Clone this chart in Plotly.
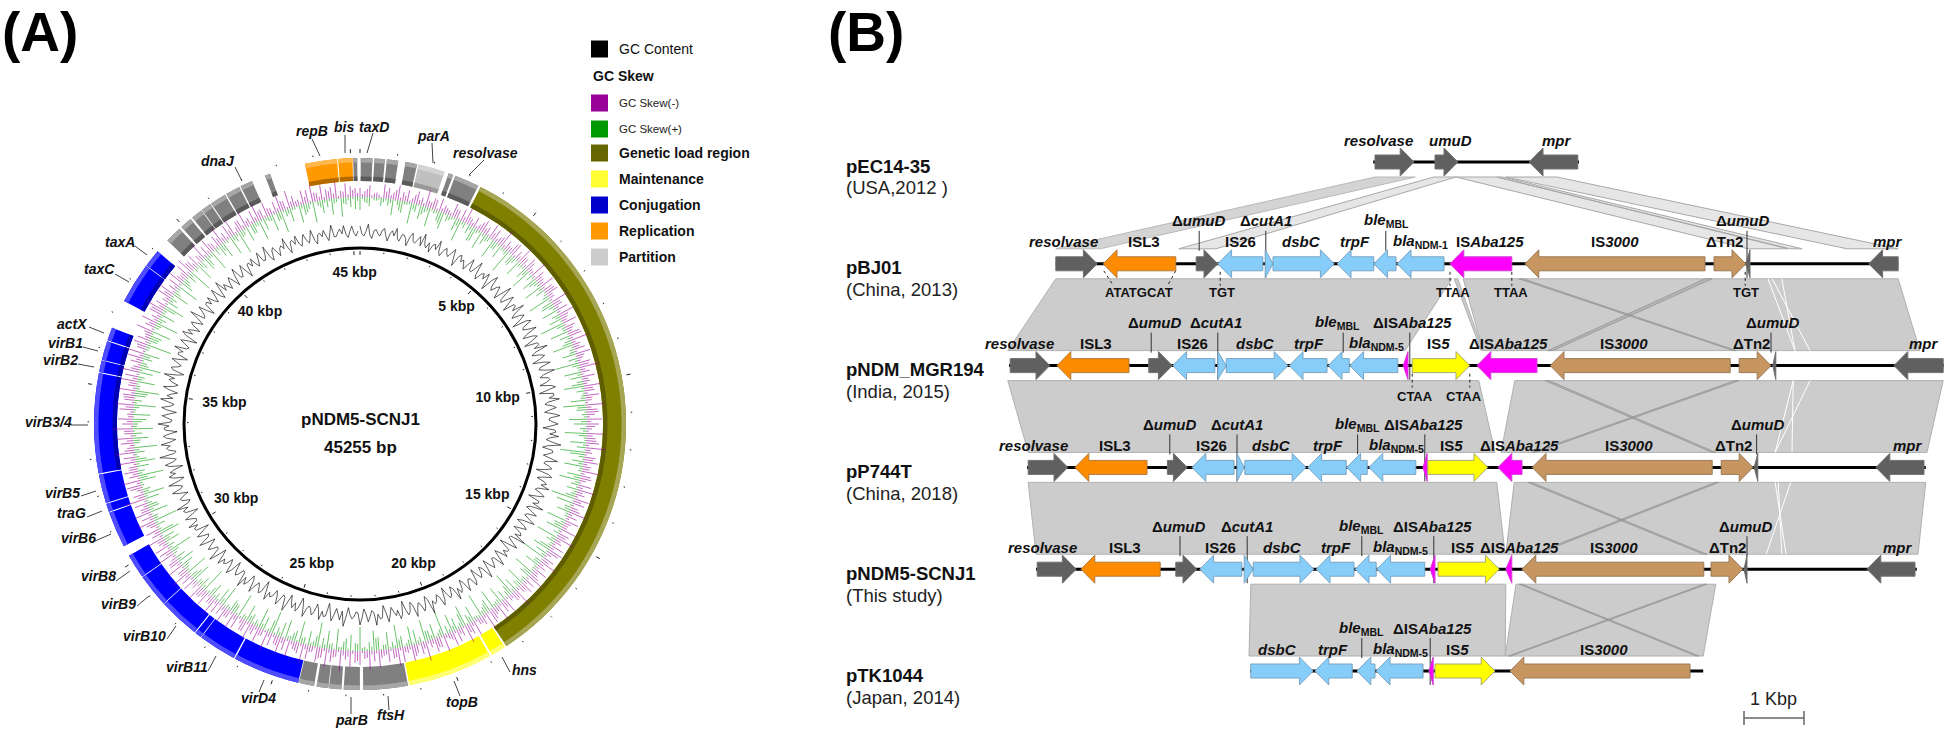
"""Plasmid map (A) and linear gene comparison (B), pNDM5-SCNJ1."""

import plotly.graph_objects as go

W, H = 1946, 729
FONT = "Liberation Sans"
PLASMID_BP = 45255

# ---- panel A data: kbp along the plasmid --------------------------------
LOAD_GENES = [(3.39, 18.43)]
MAINT_GENES = [(18.48, 18.89), (18.95, 21.28)]
CONJ_GENES = [(24.32, 26.15), (26.19, 27.23), (27.25, 27.43), (27.46, 28.59), (28.61, 29.52),
              (29.54, 30.21), (30.50, 31.49), (31.52, 31.74), (31.77, 32.56), (32.59, 35.33),
              (35.36, 35.68), (35.70, 36.22), (36.25, 36.61), (37.40, 38.52), (38.54, 39.03)]
REPL_GENES = [(43.75, 44.63), (44.66, 45.05)]
PART_GENES = [(1.60, 2.33)]
OTHER_GENES = [(21.32, 22.54), (22.63, 23.07), (23.13, 23.47), (23.49, 23.81), (23.88, 24.30),
               (39.42, 39.88), (39.95, 40.28), (40.34, 40.65), (40.67, 40.95), (40.98, 41.42),
               (41.46, 41.86), (41.90, 42.24), (42.62, 42.77), (45.07, 45.18), (0.02, 0.34),
               (0.39, 0.68), (0.73, 1.04), (1.24, 1.56), (2.45, 2.58), (2.64, 3.32)]

KBP_LABELS = [45, 5, 10, 15, 20, 25, 30, 35, 40]
KBP_LABEL_R = [151, 151, 140, 146, 150, 149, 145, 137, 150]

# window values round the plasmid, read by eye; the *_MID lists are the windows half way between
SKEW_NEG = [
    9, 6, 12, 4, 3, 14, 11, 7, 15, 9, 12, 5, 13, 8, 17, 6, 10, 13, 8, 5, 14, 9, 12, 16, 7, 11, 6, 13, 9, 15,
    12, 7, 18, 10, 6, 14, 9, 16, 8, 13, 5, 17, 11, 7, 15, 10, 13, 6, 18, 9, 12, 16, 7, 14, 10, 5, 13, 17, 8, 11,
    15, 6, 12, 19, 9, 13, 7, 16, 10, 14, 6, 18, 11, 8, 15, 12, 5, 17, 9, 13, 20, 7, 11, 14, 8, 16, 10, 6, 13, 18,
    9, 15, 12, 7, 17, 10, 14, 5, 16, 11, 19, 8, 13, 15, 6, 12, 18, 9, 14, 7, 16, 11, 13, 8, 20, 10, 6, 15, 12, 17,
    8, 14, 18, 10, 7, 16, 12, 19, 9, 13, 15, 6, 17, 11, 14, 8, 20, 12, 9, 16, 7, 15, 18, 10, 13, 6, 17, 11, 19, 8,
    14, 12, 16, 9, 21, 7, 13, 18, 10, 15, 6, 14, 19, 11, 8, 17, 12, 16, 9, 13, 20, 7, 15, 10, 18, 12, 6, 14, 17, 9,
    16, 11, 13, 19, 8, 15, 10, 18, 7, 14, 12, 20, 9, 16, 11, 6, 17, 13, 15, 8, 19, 10, 14, 7, 18, 12, 16, 9, 13, 21,
    11, 6, 15, 18, 10, 14, 8, 17, 12, 19, 7, 13, 16, 9, 20, 11, 15, 6, 14, 18, 10, 12, 17, 8, 16, 13, 19, 7, 11, 15,
    18, 9, 14, 12, 6, 17, 10, 16, 8, 13, 19, 11, 7, 15, 18, 9, 12, 16, 6, 14, 17, 10, 13, 8, 19, 11, 15, 7, 12, 18,
    9, 14, 16, 6, 11, 17, 8, 13, 19, 10, 15, 7, 12, 16, 9, 18, 11, 6, 14, 13, 17, 8, 15, 10, 12, 16, 7, 14, 11, 9,
]
SKEW_NEG_MID = [
    3, 8, 2, 5, 1, 7, 4, 10, 3, 6, 2, 9, 5, 3, 7, 11, 2, 4, 6, 3, 9, 2, 5, 8, 4, 3, 10, 6, 2, 7,
    4, 9, 3, 6, 12, 2, 5, 8, 3, 10, 4, 2, 7, 5, 3, 11, 6, 2, 8, 4, 3, 9, 5, 2, 7, 12, 3, 4, 6, 2,
    8, 3, 10, 5, 2, 6, 4, 9, 3, 7, 2, 5, 12, 3, 4, 8, 2, 6, 10, 3, 5, 2, 9, 4, 7, 3, 11, 2, 5, 6,
    3, 8, 2, 10, 4, 3, 7, 5, 2, 9, 6, 3, 4, 12, 2, 8, 5, 3, 6, 10, 2, 4, 7, 3, 9, 5, 2, 8, 3, 6,
    11, 2, 4, 7, 3, 5, 9, 2, 6, 3, 8, 4, 2, 10, 5, 3, 7, 2, 12, 4, 6, 3, 9, 2, 5, 8, 3, 4, 7, 2,
    10, 3, 6, 5, 2, 8, 4, 3, 11, 2, 7, 5, 3, 9, 4, 2, 6, 10, 3, 5, 2, 8, 4, 7, 3, 12, 2, 6, 3, 9,
    5, 2, 4, 8, 3, 7, 10, 2, 5, 3, 6, 9, 2, 4, 11, 3, 7, 2, 5, 8, 3, 6, 2, 10, 4, 3, 9, 5, 2, 7,
    3, 12, 4, 2, 6, 8, 3, 5, 2, 10, 4, 7, 3, 9, 2, 6, 5, 3, 8, 2, 11, 4, 3, 7, 5, 2, 9, 3, 6, 4,
    2, 10, 3, 5, 8, 2, 7, 4, 3, 12, 6, 2, 5, 9, 3, 4, 2, 8, 7, 3, 10, 5, 2, 6, 3, 4, 9, 2, 8, 5,
    3, 7, 2, 11, 4, 6, 3, 5, 9, 2, 8, 3, 4, 10, 2, 6, 5, 3, 7, 2, 9, 4, 3, 8, 5, 2, 6, 3, 7, 4,
]
SKEW_POS = [
    13, 5, 9, 3, 2, 4, 7, 16, 5, 12, 3, 21, 8, 14, 6, 19, 4, 10, 17, 7, 3, 13, 22, 6, 9, 15, 4, 18, 11, 5,
    20, 8, 14, 3, 24, 10, 6, 17, 4, 12, 21, 7, 15, 5, 19, 9, 3, 23, 11, 6, 16, 8, 13, 25, 4, 18, 10, 7, 21, 5,
    14, 9, 24, 3, 17, 12, 6, 20, 8, 4, 15, 23, 10, 5, 18, 13, 7, 22, 3, 16, 9, 25, 6, 12, 19, 4, 14, 21, 8, 11,
    5, 24, 17, 7, 13, 3, 20, 10, 16, 6, 22, 9, 4, 18, 12, 25, 7, 15, 3, 21, 11, 5, 19, 8, 14, 23, 6, 10, 17, 4,
    20, 13, 7, 24, 3, 16, 9, 21, 5, 12, 18, 8, 25, 4, 15, 10, 22, 6, 14, 19, 3, 11, 23, 7, 17, 5, 13, 20, 9, 4,
    24, 8, 16, 12, 3, 21, 6, 18, 10, 25, 5, 14, 7, 22, 11, 4, 19, 15, 8, 23, 3, 13, 20, 6, 10, 17, 5, 24, 9, 12,
    4, 21, 16, 7, 14, 3, 25, 11, 6, 19, 8, 22, 5, 13, 17, 10, 4, 23, 7, 15, 12, 20, 3, 9, 24, 6, 18, 11, 5, 14,
    21, 8, 3, 16, 25, 7, 12, 19, 4, 10, 23, 6, 15, 9, 20, 5, 13, 17, 3, 22, 8, 11, 24, 4, 18, 7, 14, 21, 6, 10,
    16, 3, 25, 9, 12, 19, 5, 23, 8, 15, 4, 20, 11, 7, 17, 3, 22, 13, 6, 10, 24, 5, 18, 9, 14, 4, 21, 7, 12, 16,
    3, 19, 8, 23, 6, 15, 10, 4, 20, 12, 5, 17, 9, 22, 7, 14, 3, 18, 11, 6, 21, 5, 13, 8, 16, 4, 19, 7, 10, 12,
]
SKEW_POS_MID = [
    2, 6, 1, 3, 8, 2, 4, 1, 10, 3, 2, 6, 1, 9, 4, 2, 3, 12, 1, 5, 2, 7, 3, 1, 4, 14, 2, 3, 6, 1,
    8, 2, 3, 5, 1, 11, 2, 4, 3, 7, 1, 2, 9, 3, 4, 1, 6, 2, 13, 3, 1, 5, 2, 8, 4, 1, 3, 10, 2, 6,
    1, 3, 7, 2, 4, 1, 12, 3, 2, 5, 1, 9, 2, 3, 6, 1, 4, 8, 2, 3, 1, 15, 2, 5, 3, 1, 7, 4, 2, 3,
    10, 1, 2, 6, 3, 1, 4, 9, 2, 1, 5, 3, 12, 2, 4, 1, 7, 3, 2, 8, 1, 4, 6, 2, 3, 11, 1, 2, 5, 3,
    1, 9, 4, 2, 3, 6, 1, 14, 2, 5, 3, 1, 7, 2, 4, 10, 1, 3, 2, 6, 1, 8, 3, 2, 5, 1, 12, 4, 2, 3,
    7, 1, 2, 9, 3, 1, 5, 4, 2, 11, 3, 1, 6, 2, 8, 3, 1, 4, 2, 13, 1, 5, 3, 2, 7, 4, 1, 2, 10, 3,
    1, 6, 2, 3, 9, 1, 4, 5, 2, 12, 1, 3, 7, 2, 4, 1, 8, 3, 2, 6, 1, 15, 2, 3, 5, 1, 4, 10, 2, 3,
    6, 1, 2, 8, 4, 1, 3, 11, 2, 5, 1, 7, 3, 2, 4, 9, 1, 2, 6, 3, 1, 13, 4, 2, 5, 1, 3, 8, 2, 7,
    1, 4, 3, 10, 2, 1, 6, 5, 2, 3, 12, 1, 4, 2, 7, 3, 1, 9, 2, 5, 1, 3, 6, 2, 11, 4, 1, 3, 8, 2,
    1, 5, 3, 7, 2, 1, 10, 4, 2, 3, 6, 1, 8, 2, 5, 3, 1, 4, 9, 2, 1, 7, 3, 2, 5, 1, 6, 3, 2, 4,
]
GC_DEV = [
    6, -4, 8, -6, 3, -3, 5, -7, 4, 7, -5, 2, -8, 6, -3, 5, 9, -4, -7, 3, 8, -6, 4, -3, 7, -9, 5, 2, -6, 8,
    -4, 10, -7, 3, 6, -10, 9, -5, 4, -8, 11, -6, 7, -9, 3, 10, -7, 5, -11, 8, -4, 9, -8, 6, -10, 4, 11, -7, 5, -9,
    8, -5, 10, -6, 3, -8, 7, -10, 4, 9, -6, 5, -7, 8, -3, 6, -9, 4, 7, -5, 10, -8, 3, -6, 9, -4, 5, -10, 7, -7,
    4, 8, -5, 6, -9, 3, 10, -6, 7, -4, 9, -8, 5, -7, 4, 11, -5, 8, -10, 3, 6, -7, 9, -4, 5, -8, 10, -6, 4, -9,
    7, -3, 8, -7, 5, 10, -6, 4, -9, 8, -5, 3, 11, -8, 6, -4, 9, -7, 5, -10, 7, 3, -6, 8, -9, 4, 10, -5, 6, -7,
    9, -4, 3, -8, 11, 5, -6, 7, -10, 4, 8, -7, 5, -3, 9, -9, 6, 4, -8, 10, -5, 7, -6, 3, 8, -10, 5, -4, 9, -7,
    6, 11, -5, 4, -9, 8, -6, 3, 7, -8, 10, -4, 5, -7, 9, -5, 6, -10, 4, 8, -3, 7, -9, 5, 10, -6, 3, -7, 8, -4,
    9, -8, 6, 4, -10, 7, -5, 11, -6, 3, 8, -7, 5, -9, 4, 10, -4, 6, -8, 7, -5, 9, 3, -7, 8, -6, 4, 10, -9, 5,
    -4, 7, -8, 3, 9, -5, 6, -10, 8, 4, -7, 5, -6, 11, -3, 7, -9, 4, 6, -5, 8, -7, 10, 3, -6, 5, -8, 9, -4, 7,
    -9, 4, 6, -5, 8, -3, 10, -7, 5, -6, 3, 9, -8, 4, 7, -5, 6, -4, 8, -7, 3, 5, -6, 9, -3, 4, 7, -5, 6, -4,
]
GC_DEV_MID = [
    -2, 1, -3, 2, -1, 3, -2, 1, -1, -3, 2, -1, 2, -2, 1, -4, -1, 2, 1, -2, -3, 1, -1, 2, -2, 3, -1, -2, 1, -3,
    2, -3, 1, -2, -1, 3, -2, 1, -2, 2, -4, 1, -1, 3, -2, -3, 1, -1, 4, -2, 1, -3, 2, -1, 3, -2, -3, 1, -1, 2,
    -3, 1, -2, 2, -1, 3, -2, 4, -1, -3, 1, -2, 2, -2, 1, -1, 3, -2, -2, 1, -3, 2, -1, 1, -3, 2, -1, 3, -2, 1,
    -1, -3, 2, -1, 3, -2, -3, 1, -2, 2, -3, 1, -1, 2, -2, -4, 1, -2, 3, -1, -2, 1, -3, 1, -1, 2, -3, 1, -2, 3,
    -2, 1, -3, 2, -1, -3, 2, -1, 3, -2, 1, -1, -4, 2, -1, 1, -3, 2, -1, 3, -2, -1, 1, -2, 3, -1, -3, 1, -2, 2,
    -3, 1, -1, 2, -4, -1, 1, -2, 3, -1, -2, 2, -1, 1, -3, 2, -2, -1, 2, -3, 1, -2, 1, -1, -2, 3, -1, 1, -3, 2,
    -1, -4, 1, -1, 3, -2, 1, -1, -2, 2, -3, 1, -1, 2, -3, 1, -2, 3, -1, -2, 1, -2, 3, -1, -3, 1, -1, 2, -2, 1,
    -3, 2, -1, -1, 3, -2, 1, -4, 1, -1, -2, 2, -1, 3, -1, -3, 1, -1, 2, -2, 1, -3, -1, 2, -2, 1, -1, -3, 3, -1,
    1, -2, 3, -1, -3, 1, -1, 3, -2, -1, 2, -1, 1, -4, 1, -2, 3, -1, -1, 1, -3, 2, -3, -1, 1, -1, 2, -3, 1, -2,
    3, -1, -1, 1, -2, 1, -3, 2, -1, 1, -1, -2, 3, -1, -2, 1, -1, 1, -3, 2, -1, -1, 1, -3, 1, -1, -2, 1, -1, 1,
]

# ---- panel B data: (kbp start, kbp end, strand, class) per plasmid row ---
ROW_NAMES = ["pEC14-35", "pBJ01", "pNDM_MGR194", "pP744T", "pNDM5-SCNJ1", "pTK1044"]
ROW_NOTES = ["(USA,2012 )", "(China, 2013)", "(India, 2015)", "(China, 2018)", "(This study)", "(Japan, 2014)"]
BACKBONES = [(9.22, 12.65), (3.93, 17.97), (3.15, 18.73), (3.45, 18.43), (3.60, 18.28), (7.17, 14.72)]

GENES = [
    [(9.25, 9.90, 1, "dark"), (10.25, 10.63, 1, "dark"), (11.82, 12.63, -1, "dark")],
    [(3.93, 4.62, 1, "dark"), (4.72, 5.93, -1, "orange"), (6.27, 6.63, 1, "dark"), (6.63, 7.38, -1, "blue"),
     (7.42, 7.55, 1, "blue"), (7.55, 8.57, 1, "blue"), (8.62, 9.23, -1, "blue"), (9.23, 9.60, -1, "blue"),
     (9.62, 10.40, -1, "blue"), (10.50, 11.53, -1, "magenta"), (11.75, 14.75, -1, "tan"), (14.90, 15.43, 1, "tan"),
     (15.43, 15.50, -1, "dark"), (17.48, 17.97, -1, "dark")],
    [(3.17, 3.83, 1, "dark"), (3.95, 5.15, -1, "orange"), (5.48, 5.87, 1, "dark"), (5.88, 6.58, -1, "blue"),
     (6.63, 6.77, 1, "blue"), (6.77, 7.80, 1, "blue"), (7.82, 8.45, -1, "blue"), (8.47, 8.82, -1, "blue"),
     (8.83, 9.63, -1, "blue"), (9.72, 9.80, -1, "magenta"), (9.87, 10.83, 1, "yellow"), (10.95, 11.95, -1, "magenta"),
     (12.17, 15.17, -1, "tan"), (15.32, 15.85, 1, "tan"), (15.88, 15.93, -1, "dark"), (17.90, 18.72, -1, "dark")],
    [(3.47, 4.13, 1, "dark"), (4.25, 5.45, -1, "orange"), (5.79, 6.12, 1, "dark"), (6.20, 6.90, -1, "blue"),
     (6.95, 7.07, 1, "blue"), (7.08, 8.10, 1, "blue"), (8.13, 8.77, -1, "blue"), (8.78, 9.12, -1, "blue"),
     (9.15, 9.93, -1, "blue"), (10.05, 10.12, -1, "magenta"), (10.13, 11.13, 1, "yellow"), (11.30, 11.70, -1, "magenta"),
     (11.87, 14.87, -1, "tan"), (15.02, 15.55, 1, "tan"), (15.57, 15.63, -1, "dark"), (17.60, 18.40, -1, "dark")],
    [(3.62, 4.27, 1, "dark"), (4.35, 5.67, -1, "orange"), (5.93, 6.28, 1, "dark"), (6.33, 7.03, -1, "blue"),
     (7.07, 7.22, 1, "blue"), (7.22, 8.23, 1, "blue"), (8.27, 8.90, -1, "blue"), (8.92, 9.27, -1, "blue"),
     (9.28, 10.08, -1, "blue"), (10.17, 10.25, -1, "magenta"), (10.30, 11.32, 1, "yellow"), (11.43, 11.53, -1, "magenta"),
     (11.70, 14.73, -1, "tan"), (14.85, 15.38, 1, "tan"), (15.40, 15.45, -1, "dark"), (17.45, 18.25, -1, "dark")],
    [(7.18, 8.22, 1, "blue"), (8.25, 8.87, -1, "blue"), (8.95, 9.25, -1, "blue"), (9.27, 10.05, -1, "blue"),
     (10.15, 10.22, -1, "magenta"), (10.25, 11.25, 1, "yellow"), (11.50, 14.50, -1, "tan")],
]

# homology ribbons between neighbouring rows: (top start, top end, bottom start, bottom end)
LIGHT_RIBBONS = [(10.23, 10.60, 5.98, 6.60), (10.60, 11.28, 15.47, 16.13), (11.28, 11.38, 16.17, 16.37),
                 (11.43, 12.28, 17.12, 17.97)]
FIRST_RIBBON = (9.25, 9.92, 3.93, 4.67)
RIBBONS = [
    [],
    [(3.93, 10.53, 3.13, 9.75), (10.57, 10.63, 11.02, 11.05), (10.72, 17.97, 11.05, 18.33)],
    [(3.13, 10.98, 3.47, 11.25), (11.58, 18.72, 11.35, 18.45)],
    [(3.47, 11.28, 3.60, 11.42), (11.57, 18.43, 11.43, 18.30)],
    [(7.18, 11.43, 7.15, 11.42), (11.60, 14.93, 11.42, 14.72)],
]
INVERTED = [
    [],
    [(11.65, 11.72, 15.22, 15.27), (14.75, 14.87, 12.13, 12.22)],
    [(12.08, 12.15, 14.87, 14.93), (15.25, 15.32, 11.87, 11.93)],
    [(11.80, 11.86, 14.72, 14.78), (14.92, 14.98, 11.88, 11.94)],
    [(11.65, 11.70, 14.60, 14.65), (14.73, 14.78, 11.47, 11.52)],
]
# thin breaks in the ribbons near umuD: (top kbp, bottom kbp)
BREAKS = [
    [],
    [(15.80, 16.25), (16.03, 16.25), (15.87, 16.50)],
    [(16.22, 16.20), (16.50, 15.92), (16.22, 15.92)],
    [(15.92, 16.10), (16.18, 15.77), (15.97, 16.03)],
    [],
]

# gene labels: (text, kbp, row)
D = "\u0394"
LOWER_LABELS = [
    ("<i>resolvase</i>", 9.30, 0), ("<i>umuD</i>", 10.50, 0), ("<i>mpr</i>", 12.28, 0),
    ("<i>resolvase</i>", 4.05, 1), ("ISL3", 5.40, 1), ("IS26", 7.00, 1), ("<i>dsbC</i>", 8.02, 1),
    ("<i>trpF</i>", 8.92, 1), ("<i>bla</i><sub>NDM-1</sub>", 10.00, 1), ("IS<i>Aba125</i>", 11.17, 1),
    ("IS<i>3000</i>", 13.25, 1), (D + "Tn2", 15.07, 1), ("<i>mpr</i>", 17.80, 1),
    ("<i>resolvase</i>", 3.32, 2), ("ISL3", 4.60, 2), ("IS26", 6.20, 2), ("<i>dsbC</i>", 7.25, 2),
    ("<i>trpF</i>", 8.15, 2), ("<i>bla</i><sub>NDM-5</sub>", 9.27, 2), ("IS<i>5</i>", 10.30, 2),
    (D + "IS<i>Aba125</i>", 11.48, 2), ("IS<i>3000</i>", 13.40, 2), (D + "Tn2", 15.52, 2), ("<i>mpr</i>", 18.40, 2),
    ("<i>resolvase</i>", 3.55, 3), ("ISL3", 4.92, 3), ("IS26", 6.52, 3), ("<i>dsbC</i>", 7.53, 3),
    ("<i>trpF</i>", 8.47, 3), ("<i>bla</i><sub>NDM-5</sub>", 9.60, 3), ("IS<i>5</i>", 10.53, 3),
    (D + "IS<i>Aba125</i>", 11.65, 3), ("IS<i>3000</i>", 13.48, 3), (D + "Tn2", 15.23, 3), ("<i>mpr</i>", 18.13, 3),
    ("<i>resolvase</i>", 3.71, 4), ("ISL3", 5.08, 4), ("IS26", 6.68, 4), ("<i>dsbC</i>", 7.70, 4),
    ("<i>trpF</i>", 8.60, 4), ("<i>bla</i><sub>NDM-5</sub>", 9.68, 4), ("IS<i>5</i>", 10.70, 4),
    (D + "IS<i>Aba125</i>", 11.65, 4), ("IS<i>3000</i>", 13.23, 4), (D + "Tn2", 15.12, 4), ("<i>mpr</i>", 17.97, 4),
    ("<i>dsbC</i>", 7.62, 5), ("<i>trpF</i>", 8.55, 5), ("<i>bla</i><sub>NDM-5</sub>", 9.68, 5),
    ("IS<i>5</i>", 10.63, 5), ("IS<i>3000</i>", 13.07, 5),
]
UPPER_LABELS = [
    (D + "<i>umuD</i>", 6.30, 1), (D + "<i>cutA1</i>", 7.43, 1), ("<i>ble</i><sub>MBL</sub>", 9.44, 1), (D + "<i>umuD</i>", 15.38, 1),
    (D + "<i>umuD</i>", 5.58, 2), (D + "<i>cutA1</i>", 6.60, 2), ("<i>ble</i><sub>MBL</sub>", 8.63, 2),
    (D + "IS<i>Aba125</i>", 9.88, 2), (D + "<i>umuD</i>", 15.87, 2),
    (D + "<i>umuD</i>", 5.82, 3), (D + "<i>cutA1</i>", 6.95, 3), ("<i>ble</i><sub>MBL</sub>", 8.95, 3),
    (D + "IS<i>Aba125</i>", 10.05, 3), (D + "<i>umuD</i>", 15.62, 3),
    (D + "<i>umuD</i>", 5.98, 4), (D + "<i>cutA1</i>", 7.12, 4), ("<i>ble</i><sub>MBL</sub>", 9.03, 4),
    (D + "IS<i>Aba125</i>", 10.20, 4), (D + "<i>umuD</i>", 15.43, 4),
    ("<i>ble</i><sub>MBL</sub>", 9.03, 5), (D + "IS<i>Aba125</i>", 10.20, 5),
]
SITE_LABELS = [("ATATGCAT", 5.32, 1), ("TGT", 6.70, 1), ("TTAA", 10.55, 1), ("TTAA", 11.52, 1), ("TGT", 15.43, 1),
               ("CTAA", 9.92, 2), ("CTAA", 10.73, 2)]
SHORT_LEADERS = [(6.32, 1), (9.43, 1), (5.52, 2), (8.72, 2), (15.85, 2), (5.83, 3), (8.96, 3), (15.61, 3),
                 (6.00, 4), (9.03, 4), (15.45, 4), (9.03, 5)]
LONG_LEADERS = [(7.43, 1), (15.45, 1), (6.63, 2), (9.83, 2), (6.95, 3), (10.08, 3), (7.12, 4), (10.23, 4), (10.17, 5)]
SITE_LEADERS = [(6.67, 1), (10.50, 1), (11.53, 1), (15.42, 1), (9.87, 2), (10.83, 2)]
SLANT_LEADERS = [(4.73, 4.88, 1), (5.93, 5.80, 1)]
SCALE_BAR_KBP = (15.40, 16.40)

# legend and circular labels (label x, y, leader x0, y0, x1, y1 in picture pixels)
LEGEND_LABELS = ["GC Content", "GC Skew", "GC Skew(-)", "GC Skew(+)", "Genetic load region",
                 "Maintenance", "Conjugation", "Replication", "Partition"]
LEGEND_COLORS = ["#000000", None, "#990099", "#009900", "#666600", "#ffff33", "#0000cc", "#ff9900", "#cccccc"]
LEGEND_Y = [49, 76, 103, 129, 153, 179, 205, 231, 257]
RING_LABELS = [
    ("repB", 312, 131, 312, 139, 320, 156), ("bis", 344, 127, 345, 135, 345, 153),
    ("taxD", 374, 127, 373, 133, 367, 153), ("parA", 433, 136, 432, 143, 433, 163),
    ("resolvase", 485, 153, 484, 160, 469, 175), ("dnaJ", 218, 161, 235, 167, 242, 181),
    ("taxA", 120, 242, 135, 246, 147, 255), ("taxC", 99, 269, 115, 274, 129, 282),
    ("actX", 72, 324, 89, 327, 104, 333), ("virB1", 65, 343, 83, 347, 98, 351),
    ("virB2", 60, 360, 78, 364, 94, 367), ("virB3/4", 48, 422, 71, 425, 88, 425),
    ("virB5", 62, 493, 81, 496, 96, 491), ("traG", 71, 513, 87, 517, 102, 511),
    ("virB6", 78, 538, 95, 541, 111, 534), ("virB8", 98, 576, 116, 581, 130, 571),
    ("virB9", 118, 604, 137, 606, 149, 596), ("virB10", 144, 636, 167, 639, 176, 626),
    ("virB11", 187, 667, 208, 671, 216, 656), ("virD4", 258, 698, 259, 692, 264, 680),
    ("parB", 351, 720, 351, 714, 351, 697), ("ftsH", 391, 715, 389, 710, 388, 696),
    ("topB", 462, 702, 460, 696, 454, 681), ("hns", 524, 670, 510, 672, 502, 657),
]

# ---- geometry -------------------------------------------------------------
CX, CY, RMAX = 360, 424, 300
R_INNER, R_SKEW, R_GC = 176, 227, 192
RING_IN, RING_OUT = 243, 266
BEVEL = 4.5

B_LEFT = 820
PX_PER_KBP = 60
ROW0_PX, ROW_PX = 162, 101.8
HEAD_KBP, BODY_H, HEAD_H = 0.23, 7 / ROW_PX, 14 / ROW_PX
STRIP = 15 / ROW_PX


def paper_x(px):
    return px / W


def paper_y(py):
    return 1 - py / H


def deg(kb):
    return kb * 1000 / PLASMID_BP * 360


def row_off(px):
    return px / ROW_PX


fig = go.Figure()

# ---- panel A ---------------------------------------------------------------


def ring_segment(segs, color, light, dark):
    thetas = [deg((a + b) / 2) for a, b in segs]
    widths = [deg(b - a) for a, b in segs]
    fig.add_trace(go.Barpolar(r=[RING_OUT - RING_IN] * len(segs), base=[RING_IN] * len(segs), theta=thetas,
                              width=widths, marker=dict(color=color, line=dict(width=0))))
    fig.add_trace(go.Barpolar(r=[BEVEL] * len(segs), base=[RING_OUT - BEVEL] * len(segs), theta=thetas,
                              width=widths, marker=dict(color=light, line=dict(width=0))))
    upper = [i for i, t in enumerate(thetas) if t < 100 or t > 260]
    if upper:
        fig.add_trace(go.Barpolar(r=[BEVEL] * len(upper), base=[RING_IN] * len(upper),
                                  theta=[thetas[i] for i in upper], width=[widths[i] for i in upper],
                                  marker=dict(color=dark, line=dict(width=0))))


ring_segment(LOAD_GENES, "#808000", "#a6a654", "#5e5e00")
ring_segment(MAINT_GENES, "#ffff00", "#ffff73", "#b3b300")
ring_segment(CONJ_GENES, "#0000ff", "#4d4dff", "#0000b3")
ring_segment(REPL_GENES, "#ff9900", "#ffb84d", "#b36b00")
ring_segment(PART_GENES, "#c0c0c0", "#d4d4d4", "#9a9a9a")
ring_segment(OTHER_GENES, "#808080", "#a6a6a6", "#5a5a5a")


def interleave(a, b):
    return [v for pair in zip(a, b) for v in pair]


def tick_track(values, base, sign, color, width):
    # one needle per window
    step = 360 / len(values)
    r, theta = [], []
    for i, v in enumerate(values):
        r += [base, base + sign * v, None]
        theta += [i * step, i * step, None]
    fig.add_trace(go.Scatterpolar(r=r, theta=theta, mode="lines", line=dict(color=color, width=width)))


tick_track(interleave(SKEW_NEG, SKEW_NEG_MID), R_SKEW, 1, "rgba(153,0,153,0.6)", 1)
tick_track(interleave(SKEW_POS, SKEW_POS_MID), R_SKEW, -1, "rgba(0,153,0,0.6)", 1)

# GC content is a jagged line round its ring
gc_values = interleave(GC_DEV, GC_DEV_MID)
fig.add_trace(go.Scatterpolar(
    r=[R_GC + v for v in gc_values],
    theta=[i * 360 / len(gc_values) for i in range(len(gc_values))],
    mode="lines",
    line=dict(color="rgba(0,0,0,0.7)", width=0.9),
))

# kbp ticks, small every 1 kbp and longer every 5 kbp
for ring_r, sign in ((R_INNER - 3, -1), (RING_OUT + 5, 1)):
    r, theta = [], []
    for kb in range(46):
        size = 4 if kb % 5 == 0 else 1.5
        r += [ring_r, ring_r + sign * size, None]
        theta += [deg(kb), deg(kb), None]
    fig.add_trace(go.Scatterpolar(r=r, theta=theta, mode="lines", line=dict(color="#222222", width=1)))

fig.add_trace(go.Scatterpolar(
    r=KBP_LABEL_R, theta=[deg(k) for k in KBP_LABELS], mode="text",
    text=[f"<b>{k} kbp</b>" for k in KBP_LABELS],
    textfont=dict(family=FONT, size=14, color="#111111"),
))

# ---- panel B ---------------------------------------------------------------
GENE_COLORS = {
    "dark": ("#606060", "#707070"),
    "orange": ("#ff8c00", "#b07a3a"),
    "blue": ("#87cdf9", "#7ba4c2"),
    "magenta": ("#ff00ff", "#d040d0"),
    "yellow": ("#ffff00", "#a8a870"),
    "tan": ("#c69560", "#9a7a58"),
}


def ribbon_trace(ribbons, top_row, fill, edge, width=1):
    xs, ys = [], []
    top, bottom = top_row + STRIP, top_row + 1 - STRIP
    for t0, t1, b0, b1 in ribbons:
        xs += [t0, t1, b1, b0, t0, None]
        ys += [top, top, bottom, bottom, top, None]
    fig.add_trace(go.Scatter(x=xs, y=ys, mode="lines", fill="toself", fillcolor=fill,
                             line=dict(color=edge, width=width)))


ribbon_trace([FIRST_RIBBON], 0, "#d4d4d4", "#b8b8b8")
ribbon_trace(LIGHT_RIBBONS, 0, "#e6e6e6", "#a8a8a8")
for gap in range(1, 5):
    ribbon_trace(RIBBONS[gap], gap, "#cccccc", "#b0b0b0")
    ribbon_trace(INVERTED[gap], gap, "#b4b4b4", "#8f8f8f", 0.7)
    if BREAKS[gap]:
        xs, ys = [], []
        for top_kb, bottom_kb in BREAKS[gap]:
            xs += [top_kb, bottom_kb, None]
            ys += [gap + STRIP, gap + 1 - STRIP, None]
        fig.add_trace(go.Scatter(x=xs, y=ys, mode="lines", line=dict(color="#ffffff", width=1)))

# leader lines
for leaders, top_px, bottom_px, dash, color in (
    (SHORT_LEADERS, -33, -13, "solid", "#333333"),
    (LONG_LEADERS, -33, 14, "solid", "#333333"),
    (SITE_LEADERS, 8, 22, "dot", "#222222"),
):
    xs, ys = [], []
    for kb, row in leaders:
        xs += [kb, kb, None]
        ys += [row + row_off(top_px), row + row_off(bottom_px), None]
    fig.add_trace(go.Scatter(x=xs, y=ys, mode="lines", line=dict(color=color, width=1, dash=dash)))
xs, ys = [], []
for kb0, kb1, row in SLANT_LEADERS:
    xs += [kb0, kb1, None]
    ys += [row + row_off(7), row + row_off(21), None]
fig.add_trace(go.Scatter(x=xs, y=ys, mode="lines", line=dict(color="#222222", width=1, dash="dot")))

# backbones
xs, ys = [], []
for row, (a, b) in enumerate(BACKBONES):
    xs += [a, b, None]
    ys += [row, row, None]
fig.add_trace(go.Scatter(x=xs, y=ys, mode="lines", line=dict(color="#000000", width=3)))

# gene arrows, one trace per class
for key, (fill, edge) in GENE_COLORS.items():
    xs, ys = [], []
    for row, genes in enumerate(GENES):
        for start, end, strand, cls in genes:
            if cls != key:
                continue
            head = min(HEAD_KBP, end - start)
            if strand > 0:
                neck = end - head
                xs += [start, neck, neck, end, neck, neck, start, start, None]
            else:
                neck = start + head
                xs += [end, neck, neck, start, neck, neck, end, end, None]
            ys += [row - BODY_H, row - BODY_H, row - HEAD_H, row, row + HEAD_H,
                   row + BODY_H, row + BODY_H, row - BODY_H, None]
    fig.add_trace(go.Scatter(x=xs, y=ys, mode="lines", fill="toself", fillcolor=fill,
                             line=dict(color=edge, width=1)))

# scale bar
bar_y = row_off(718 - ROW0_PX)
cap = row_off(7)
a, b = SCALE_BAR_KBP
fig.add_trace(go.Scatter(x=[a, a, None, a, b, None, b, b], y=[bar_y - cap, bar_y + cap, None, bar_y, bar_y, None, bar_y - cap, bar_y + cap],
                         mode="lines", line=dict(color="#666666", width=1.5)))

# ---- text ------------------------------------------------------------------
notes = []


def paper_text(text, px, py, size, anchor="center", color="#000000"):
    notes.append(dict(text=text, x=paper_x(px), y=paper_y(py), xref="paper", yref="paper",
                      xanchor=anchor, yanchor="middle", showarrow=False,
                      font=dict(family=FONT, size=size, color=color)))


def gene_text(text, kb, row, off_px, size):
    notes.append(dict(text=f"<b>{text}</b>", x=kb, y=row + row_off(off_px), xref="x", yref="y",
                      xanchor="center", yanchor="middle", showarrow=False,
                      font=dict(family=FONT, size=size, color="#111111")))


paper_text("<b>(A)</b>", 40, 32, 55)
paper_text("<b>(B)</b>", 866, 32, 55)

for row, (name, note) in enumerate(zip(ROW_NAMES, ROW_NOTES)):
    y = ROW0_PX + row * ROW_PX
    paper_text(f"<b>{name}</b>", 844, y + 4, 18.5, "left", "#111111")
    paper_text(note, 844, y + 26, 18.5, "left", "#222222")

for text, kb, row in LOWER_LABELS:
    gene_text(text, kb, row, -22, 15)
for text, kb, row in UPPER_LABELS:
    gene_text(text, kb, row, -43, 15)
for text, kb, row in SITE_LABELS:
    gene_text(text, kb, row, 29 if row == 1 else 31, 13)
paper_text("1 Kbp", 1773.5, 699, 18, "center", "#222222")

paper_text("<b>pNDM5-SCNJ1</b>", 360, 419, 17, "center", "#111111")
paper_text("<b>45255 bp</b>", 360, 447, 17, "center", "#111111")

shapes = []
for color, y in zip(LEGEND_COLORS, LEGEND_Y):
    if color:
        shapes.append(dict(type="rect", xref="paper", yref="paper", x0=paper_x(591), x1=paper_x(608),
                           y0=paper_y(y - 8.5), y1=paper_y(y + 8.5), fillcolor=color, line=dict(width=0)))
for i, (label, y) in enumerate(zip(LEGEND_LABELS, LEGEND_Y)):
    if label == "GC Skew":
        paper_text(f"<b>{label}</b>", 591, y, 14, "left", "#111111")
    elif i == 0:
        paper_text(label, 617, y, 14, "left", "#111111")
    elif i in (2, 3):
        paper_text(label, 617, y, 11.5, "left", "#222222")
    else:
        paper_text(f"<b>{label}</b>", 617, y, 14, "left", "#111111")

for name, lx, ly, x0, y0, x1, y1 in RING_LABELS:
    paper_text(f"<b><i>{name}</i></b>", lx, ly, 14, "center", "#111111")
    shapes.append(dict(type="line", xref="paper", yref="paper", x0=paper_x(x0), y0=paper_y(y0),
                       x1=paper_x(x1), y1=paper_y(y1), line=dict(color="#444444", width=1)))

fig.update_layout(
    width=W,
    height=H,
    margin=dict(l=0, r=0, t=0, b=0),
    paper_bgcolor="#ffffff",
    plot_bgcolor="rgba(0,0,0,0)",
    showlegend=False,
    hovermode=False,
    annotations=notes,
    shapes=shapes,
    polar=dict(
        domain=dict(x=[(CX - RMAX) / W, (CX + RMAX) / W], y=[paper_y(CY + RMAX), paper_y(CY - RMAX)]),
        bgcolor="rgba(0,0,0,0)",
        barmode="overlay",
        radialaxis=dict(range=[0, RMAX], tickvals=[R_INNER], showticklabels=False, ticks="", showline=False,
                        showgrid=True, gridcolor="#000000", gridwidth=2.5),
        angularaxis=dict(rotation=90, direction="clockwise", showgrid=False, showticklabels=False,
                         ticks="", showline=False),
    ),
    xaxis=dict(domain=[B_LEFT / W, 1], range=[0, (W - B_LEFT) / PX_PER_KBP], visible=False),
    yaxis=dict(domain=[0, 1], range=[(H - ROW0_PX) / ROW_PX, -ROW0_PX / ROW_PX], visible=False),
)

# the browser's default body margin would push the fixed-size figure out of the window
fig.write_html("out.html", config={"displayModeBar": False},
               post_script="document.body.style.margin='0';")
